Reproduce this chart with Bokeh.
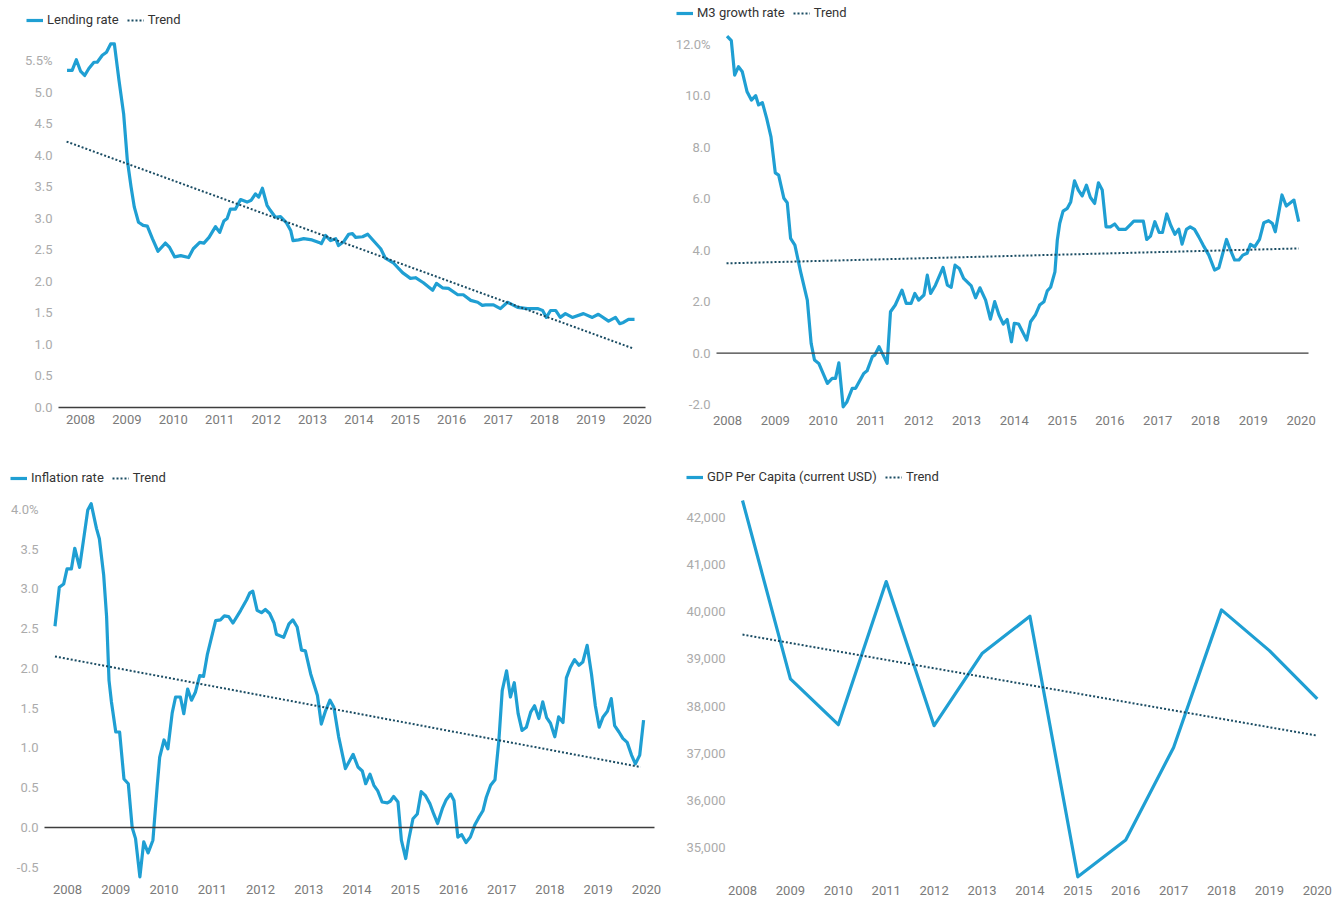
from bokeh.plotting import figure
from bokeh.models import (Range1d, FixedTicker, CustomJSTickFormatter, NumeralTickFormatter,
                          Legend, LegendItem)
from bokeh.layouts import row, column
from bokeh.embed import file_html
from bokeh.resources import INLINE

# ---------------- data ----------------
years = list(range(2008, 2021))

lending_t = [2007.71, 2007.82, 2007.91, 2008.00, 2008.09, 2008.18, 2008.29, 2008.36, 2008.47, 2008.56,
             2008.65, 2008.73, 2008.83, 2008.93, 2009.01, 2009.09, 2009.16, 2009.25, 2009.35, 2009.44,
             2009.55, 2009.67, 2009.83, 2009.92, 2010.03, 2010.16, 2010.33, 2010.43, 2010.57, 2010.66,
             2010.77, 2010.91, 2011.00, 2011.09, 2011.16, 2011.23, 2011.34, 2011.45, 2011.59, 2011.68,
             2011.77, 2011.84, 2011.92, 2012.02, 2012.09, 2012.20, 2012.31, 2012.44, 2012.53, 2012.58,
             2012.70, 2012.81, 2012.99, 2013.14, 2013.19, 2013.28, 2013.39, 2013.50, 2013.56, 2013.67,
             2013.78, 2013.86, 2013.93, 2014.08, 2014.19, 2014.31, 2014.47, 2014.57, 2014.75, 2014.94,
             2015.11, 2015.22, 2015.39, 2015.59, 2015.67, 2015.80, 2015.93, 2016.13, 2016.25, 2016.41,
             2016.56, 2016.66, 2016.73, 2016.90, 2017.05, 2017.20, 2017.42, 2017.63, 2017.85, 2017.96,
             2018.04, 2018.13, 2018.24, 2018.34, 2018.45, 2018.60, 2018.84, 2019.03, 2019.16, 2019.38,
             2019.53, 2019.62, 2019.70, 2019.81, 2019.94]
lending_v = [5.35, 5.35, 5.52, 5.34, 5.27, 5.38, 5.48, 5.48, 5.59, 5.64,
             5.77, 5.77, 5.19, 4.66, 3.92, 3.50, 3.18, 2.94, 2.89, 2.88,
             2.68, 2.48, 2.61, 2.54, 2.39, 2.41, 2.38, 2.52, 2.62, 2.61,
             2.70, 2.87, 2.78, 2.96, 3.00, 3.15, 3.15, 3.30, 3.26, 3.29,
             3.39, 3.34, 3.48, 3.21, 3.13, 3.02, 3.03, 2.93, 2.81, 2.65,
             2.66, 2.68, 2.66, 2.62, 2.60, 2.73, 2.65, 2.68, 2.57, 2.63,
             2.75, 2.76, 2.70, 2.71, 2.75, 2.65, 2.52, 2.37, 2.29, 2.14,
             2.05, 2.06, 1.98, 1.86, 1.97, 1.90, 1.89, 1.79, 1.79, 1.70,
             1.67, 1.62, 1.63, 1.63, 1.57, 1.67, 1.59, 1.57, 1.57, 1.54,
             1.43, 1.54, 1.54, 1.43, 1.49, 1.43, 1.49, 1.43, 1.48, 1.37,
             1.43, 1.33, 1.35, 1.40, 1.40]
lending_trend_t = [2007.70, 2019.90]
lending_trend_v = [4.22, 0.94]

m3_t = [2007.99, 2008.08, 2008.15, 2008.23, 2008.31, 2008.41, 2008.50, 2008.59, 2008.65, 2008.73,
        2008.82, 2008.91, 2009.00, 2009.07, 2009.18, 2009.25, 2009.32, 2009.41, 2009.53, 2009.67,
        2009.75, 2009.82, 2009.91, 2010.09, 2010.19, 2010.26, 2010.33, 2010.42, 2010.50, 2010.61,
        2010.68, 2010.85, 2010.92, 2011.03, 2011.08, 2011.17, 2011.34, 2011.41, 2011.51, 2011.65,
        2011.74, 2011.84, 2011.92, 2012.00, 2012.11, 2012.18, 2012.25, 2012.35, 2012.51, 2012.60,
        2012.68, 2012.76, 2012.85, 2012.94, 2013.10, 2013.19, 2013.28, 2013.40, 2013.50, 2013.59,
        2013.68, 2013.77, 2013.85, 2013.94, 2014.00, 2014.09, 2014.26, 2014.34, 2014.44, 2014.53,
        2014.62, 2014.69, 2014.76, 2014.85, 2014.90, 2014.95, 2015.02, 2015.11, 2015.18, 2015.26,
        2015.34, 2015.42, 2015.51, 2015.59, 2015.68, 2015.76, 2015.84, 2015.92, 2016.01, 2016.10,
        2016.19, 2016.33, 2016.44, 2016.50, 2016.70, 2016.77, 2016.85, 2016.94, 2017.03, 2017.10,
        2017.19, 2017.27, 2017.36, 2017.44, 2017.51, 2017.60, 2017.68, 2017.77, 2017.86, 2017.95,
        2018.07, 2018.19, 2018.28, 2018.44, 2018.52, 2018.61, 2018.70, 2018.78, 2018.87, 2018.94,
        2019.03, 2019.13, 2019.22, 2019.32, 2019.40, 2019.46, 2019.60, 2019.69, 2019.85, 2019.95]
m3_v = [12.33, 12.15, 10.81, 11.14, 10.94, 10.16, 9.84, 10.01, 9.65, 9.74,
        9.13, 8.41, 7.01, 6.92, 6.02, 5.85, 4.46, 4.20, 3.16, 2.06,
        0.38, -0.27, -0.40, -1.18, -0.98, -0.98, -0.38, -2.09, -1.89, -1.37,
        -1.37, -0.79, -0.69, -0.14, -0.08, 0.25, -0.40, 1.61, 1.87, 2.45,
        1.93, 1.93, 2.32, 2.06, 2.26, 3.03, 2.32, 2.64, 3.33, 2.64,
        2.56, 3.42, 3.29, 2.91, 2.61, 2.15, 2.54, 2.06, 1.32, 2.00,
        1.48, 1.13, 1.31, 0.44, 1.16, 1.13, 0.51, 1.22, 1.48, 1.87,
        2.00, 2.42, 2.56, 3.16, 4.40, 5.04, 5.52, 5.63, 5.88, 6.70,
        6.34, 6.11, 6.53, 6.06, 5.82, 6.62, 6.34, 4.91, 4.91, 5.02,
        4.81, 4.81, 5.02, 5.13, 5.13, 4.42, 4.55, 5.11, 4.69, 4.69,
        5.41, 4.98, 4.62, 4.82, 4.24, 4.81, 4.91, 4.81, 4.52, 4.20,
        3.81, 3.23, 3.32, 4.42, 4.01, 3.62, 3.62, 3.81, 3.88, 4.23,
        4.13, 4.42, 5.07, 5.15, 5.04, 4.72, 6.15, 5.72, 5.95, 5.11]
m3_trend_t = [2007.98, 2019.95]
m3_trend_v = [3.49, 4.07]

infl_t = [2007.74, 2007.83, 2007.92, 2007.99, 2008.08, 2008.15, 2008.25, 2008.34, 2008.42, 2008.49,
          2008.60, 2008.66, 2008.75, 2008.81, 2008.86, 2008.91, 2009.00, 2009.08, 2009.17, 2009.26,
          2009.34, 2009.41, 2009.50, 2009.58, 2009.67, 2009.77, 2009.86, 2009.91, 2010.00, 2010.08,
          2010.17, 2010.24, 2010.34, 2010.41, 2010.49, 2010.57, 2010.65, 2010.74, 2010.82, 2010.90,
          2011.07, 2011.17, 2011.25, 2011.34, 2011.43, 2011.53, 2011.59, 2011.71, 2011.78, 2011.84,
          2011.93, 2012.02, 2012.10, 2012.19, 2012.28, 2012.33, 2012.48, 2012.59, 2012.67, 2012.76,
          2012.85, 2012.93, 2013.04, 2013.18, 2013.26, 2013.35, 2013.44, 2013.52, 2013.62, 2013.76,
          2013.83, 2013.92, 2014.02, 2014.11, 2014.18, 2014.27, 2014.35, 2014.43, 2014.52, 2014.63,
          2014.69, 2014.76, 2014.85, 2014.92, 2015.01, 2015.07, 2015.16, 2015.25, 2015.33, 2015.42,
          2015.51, 2015.59, 2015.67, 2015.77, 2015.85, 2015.94, 2016.01, 2016.09, 2016.17, 2016.26,
          2016.35, 2016.44, 2016.52, 2016.61, 2016.68, 2016.77, 2016.86, 2016.94, 2017.01, 2017.10,
          2017.18, 2017.26, 2017.34, 2017.42, 2017.51, 2017.60, 2017.68, 2017.77, 2017.85, 2017.93,
          2018.01, 2018.10, 2018.18, 2018.27, 2018.34, 2018.42, 2018.51, 2018.60, 2018.68, 2018.77,
          2018.86, 2018.94, 2019.02, 2019.10, 2019.19, 2019.27, 2019.34, 2019.43, 2019.51, 2019.60,
          2019.69, 2019.77, 2019.86, 2019.94]
infl_v = [2.53, 3.02, 3.06, 3.25, 3.25, 3.51, 3.27, 3.65, 3.99, 4.07,
          3.76, 3.63, 3.17, 2.65, 1.85, 1.58, 1.20, 1.20, 0.61, 0.55,
          0.00, -0.14, -0.62, -0.18, -0.32, -0.16, 0.53, 0.88, 1.10, 0.99,
          1.44, 1.64, 1.64, 1.43, 1.74, 1.60, 1.70, 1.91, 1.90, 2.18,
          2.60, 2.61, 2.66, 2.65, 2.57, 2.67, 2.73, 2.86, 2.95, 2.97,
          2.73, 2.70, 2.74, 2.69, 2.57, 2.43, 2.39, 2.56, 2.61, 2.52,
          2.23, 2.22, 1.93, 1.66, 1.30, 1.47, 1.60, 1.51, 1.14, 0.74,
          0.82, 0.92, 0.76, 0.71, 0.55, 0.67, 0.53, 0.46, 0.32, 0.31,
          0.33, 0.39, 0.32, -0.16, -0.39, -0.16, 0.11, 0.17, 0.45, 0.40,
          0.30, 0.17, 0.05, 0.24, 0.35, 0.42, 0.34, -0.12, -0.09, -0.19,
          -0.12, 0.03, 0.12, 0.21, 0.38, 0.53, 0.60, 1.09, 1.72, 1.97,
          1.64, 1.82, 1.43, 1.22, 1.26, 1.45, 1.53, 1.37, 1.58, 1.38,
          1.31, 1.14, 1.39, 1.32, 1.88, 2.01, 2.11, 2.04, 2.08, 2.29,
          1.93, 1.53, 1.26, 1.39, 1.46, 1.62, 1.28, 1.20, 1.12, 1.07,
          0.91, 0.80, 0.91, 1.35]
infl_trend_t = [2007.74, 2019.88]
infl_trend_v = [2.15, 0.76]

gdp_v = [42361, 38575, 37605, 40641, 37584, 39113, 39904, 34378, 35157, 37123, 40040, 39176, 38151]
gdp_trend_t = [2008, 2020]
gdp_trend_v = [39516, 37372]

# ---------------- styling ----------------
BLUE = "#1f9fd3"
TREND = "#1a4c63"
FONT = "Roboto"


def make_panel(width, height, xr, yr, plot_x, plot_ybottom, yticks, yfmt, standoff_x,
               t, v, tt, tv, label, leg_dx, leg_dy, zero=True):
    # the frame spans the whole figure; both axes are pinned at the plot-area edges
    p = figure(width=width, height=height, output_backend="svg", toolbar_location=None,
               x_range=Range1d(*xr), y_range=Range1d(*yr),
               min_border_left=0, min_border_right=0, min_border_top=0,
               min_border_bottom=0)
    p.outline_line_color = None
    p.grid.visible = False
    p.background_fill_color = "white"
    p.border_fill_color = "white"

    xa = p.xaxis[0]
    xa.fixed_location = plot_ybottom
    xa.ticker = FixedTicker(ticks=years)
    xa.formatter = CustomJSTickFormatter(code="return tick.toFixed(0);")
    xa.axis_line_color = None
    xa.major_tick_line_color = None
    xa.minor_tick_line_color = None
    xa.major_tick_out = 0
    xa.major_label_standoff = standoff_x
    xa.major_label_text_font = FONT
    xa.major_label_text_font_size = "13px"
    xa.major_label_text_color = "#7a7a7a"

    ya = p.yaxis[0]
    ya.fixed_location = plot_x[0]
    ya.ticker = FixedTicker(ticks=yticks)
    ya.formatter = yfmt
    ya.axis_line_color = None
    ya.major_tick_line_color = None
    ya.minor_tick_line_color = None
    ya.major_tick_out = 0
    ya.major_label_standoff = 6
    ya.major_label_text_font = FONT
    ya.major_label_text_font_size = "13px"
    ya.major_label_text_color = "#ababab"

    if zero:
        p.line(x=[plot_x[0], plot_x[1]], y=[0, 0],
               line_color="#3d3d3d", line_width=1.4, level="overlay")

    r1 = p.line(t, v, line_color=BLUE, line_width=3.2, line_join="round")
    r2 = p.line(tt, tv, line_color=TREND, line_width=2, line_dash="2 2")

    leg = Legend(items=[LegendItem(label=label, renderers=[r1]),
                        LegendItem(label="Trend", renderers=[r2])],
                 orientation="horizontal", location=(leg_dx, leg_dy),
                 padding=0, margin=0, spacing=8, glyph_width=17, glyph_height=14,
                 label_height=14, label_standoff=4,
                 label_text_font=FONT, label_text_font_size="13px",
                 label_text_color="#333333", border_line_color=None,
                 background_fill_alpha=0)
    p.add_layout(leg)
    return p


def pct_fmt(top):
    return CustomJSTickFormatter(
        code="var s = tick.toFixed(1); return (Math.abs(tick - %s) < 1e-6) ? s + '%%' : s;" % top)


p1 = make_panel(666, 446, (2006.276, 2020.629), (-0.619, 6.460), (2007.526, 2020.177), -0.079,
                [0.0, 0.5, 1.0, 1.5, 2.0, 2.5, 3.0, 3.5, 4.0, 4.5, 5.0, 5.5], pct_fmt(5.5), 3,
                lending_t, lending_v, lending_trend_t, lending_trend_v, "Lending rate", 26, 419)

p2 = make_panel(677, 446, (2006.724, 2020.887), (-3.632, 13.712), (2007.770, 2020.155), -2.116,
                [-2, 0, 2, 4, 6, 8, 10, 12], pct_fmt(12), 8,
                m3_t, m3_v, m3_trend_t, m3_trend_v, "M3 growth rate", 10, 426)

p3 = make_panel(666, 451, (2006.611, 2020.415), (-0.880, 4.789), (2007.523, 2020.166), -0.628,
                [-0.5, 0.0, 0.5, 1.0, 1.5, 2.0, 2.5, 3.0, 3.5, 4.0], pct_fmt(4.0), 8,
                infl_t, infl_v, infl_trend_t, infl_trend_v, "Inflation rate", 10, 412)

p4 = make_panel(677, 451, (2006.413, 2020.547), (33939, 43506), (2007.770, 2020.276), 34363,
                [35000, 36000, 37000, 38000, 39000, 40000, 41000, 42000],
                NumeralTickFormatter(format="0,0"), 8,
                years, gdp_v, gdp_trend_t, gdp_trend_v, "GDP Per Capita (current USD)", 20, 413,
                zero=False)

layout = column(row(p1, p2), row(p3, p4))
open("out.html", "w").write(file_html(layout, INLINE))
